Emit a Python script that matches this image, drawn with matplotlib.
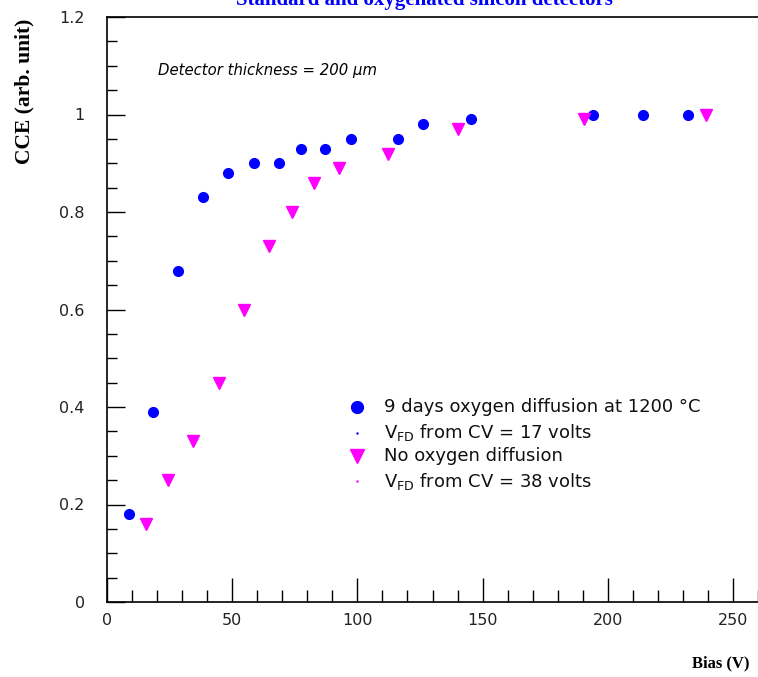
import numpy as np
import matplotlib.pyplot as plt
from matplotlib.ticker import MultipleLocator

# oxygenated detector: 9 days O2 diffusion at 1200 C
bias_oxy = [8.8, 18.3, 28.3, 38.3, 48.2, 58.6, 68.6, 77.4, 86.9, 97.3,
            116.4, 126.4, 145.5, 194.2, 214.1, 232.0]
cce_oxy = [0.18, 0.39, 0.68, 0.83, 0.88, 0.90, 0.90, 0.93, 0.93, 0.95,
           0.95, 0.98, 0.99, 1.00, 1.00, 1.00]

# standard detector, no oxygen diffusion
bias_std = [15.6, 24.3, 34.3, 44.7, 54.6, 64.6, 73.8, 82.5, 92.5,
            112.4, 140.3, 190.6, 239.2]
cce_std = [0.16, 0.25, 0.33, 0.45, 0.60, 0.73, 0.80, 0.86, 0.89,
           0.92, 0.97, 0.99, 1.00]

labels = ["9 days oxygen diffusion at 1200 \u00b0C",
          "V$_{\\mathregular{FD}}$ from CV = 17 volts",
          "No oxygen diffusion",
          "V$_{\\mathregular{FD}}$ from CV = 38 volts"]

blue = "#0000ff"
magenta = "#ff00ff"

fig = plt.figure(figsize=(7.58, 6.77), dpi=100)
ax = fig.add_axes([107/758, 75/677, 651/758, 585/677])

ax.plot(bias_oxy, cce_oxy, "o", color=blue, ms=7, mec=blue)
ax.plot(bias_std, cce_std, "v", color=magenta, ms=8, mec=magenta)

ax.set_xlim(0, 260)
ax.set_ylim(0, 1.2)
ax.xaxis.set_major_locator(MultipleLocator(50))
ax.xaxis.set_minor_locator(MultipleLocator(10))
ax.yaxis.set_minor_locator(MultipleLocator(0.05))
ax.set_yticks([0, 0.2, 0.4, 0.6, 0.8, 1, 1.2])
ax.set_yticklabels(["0", "0.2", "0.4", "0.6", "0.8", "1", "1.2"])

tick_font = "DejaVu Sans"
ax.tick_params(axis="x", which="major", direction="in", length=17, width=1,
               pad=8, labelsize=11.5)
ax.tick_params(axis="x", which="minor", direction="in", length=9, width=1)
ax.tick_params(axis="y", which="major", direction="in", length=13, width=1,
               pad=16, labelsize=11.5)
ax.tick_params(axis="y", which="minor", direction="in", length=7, width=1)
for lab in ax.get_xticklabels() + ax.get_yticklabels():
    lab.set_family(tick_font)
    lab.set_color("#222222")

for s in ["left", "bottom", "top"]:
    ax.spines[s].set_linewidth(1.2)
ax.spines["right"].set_visible(False)

# axis titles in bold serif
fig.text(24/758, 1 - 91/677, "CCE (arb. unit)", rotation=90, ha="center",
         va="center", family="Liberation Serif", weight="bold", fontsize=15.5)
fig.text(750/758, 1 - 663/677, "Bias (V)", ha="right", va="center",
         family="Liberation Serif", weight="bold", fontsize=12)

# title runs off the top of the canvas
fig.text(424/758, 1 - 5/677, "Standard and oxygenated silicon detectors",
         ha="center", va="baseline", color=blue, family="Liberation Serif",
         weight="bold", fontsize=15)

ax.text(20.3, 1.09, "Detector thickness = 200 \u03bcm", family="DejaVu Sans",
        style="oblique", fontsize=10.7, va="center")

# legend
leg_x_mark = 100
leg_x_text = 110.5
rows = [0.40, 0.347, 0.30, 0.248]
ax.plot([leg_x_mark], [rows[0]], "o", color=blue, ms=8.5)
ax.plot([leg_x_mark], [rows[1]], ".", color=blue, ms=1.5)
ax.plot([leg_x_mark], [rows[2]], "v", color=magenta, ms=9.5)
ax.plot([leg_x_mark], [rows[3]], ".", color=magenta, ms=1.5)
for y, t in zip(rows, labels):
    ax.text(leg_x_text, y, t, va="center", ha="left", fontsize=13,
            family="DejaVu Sans", color="#111111")

fig.savefig("out.png", dpi=100)
